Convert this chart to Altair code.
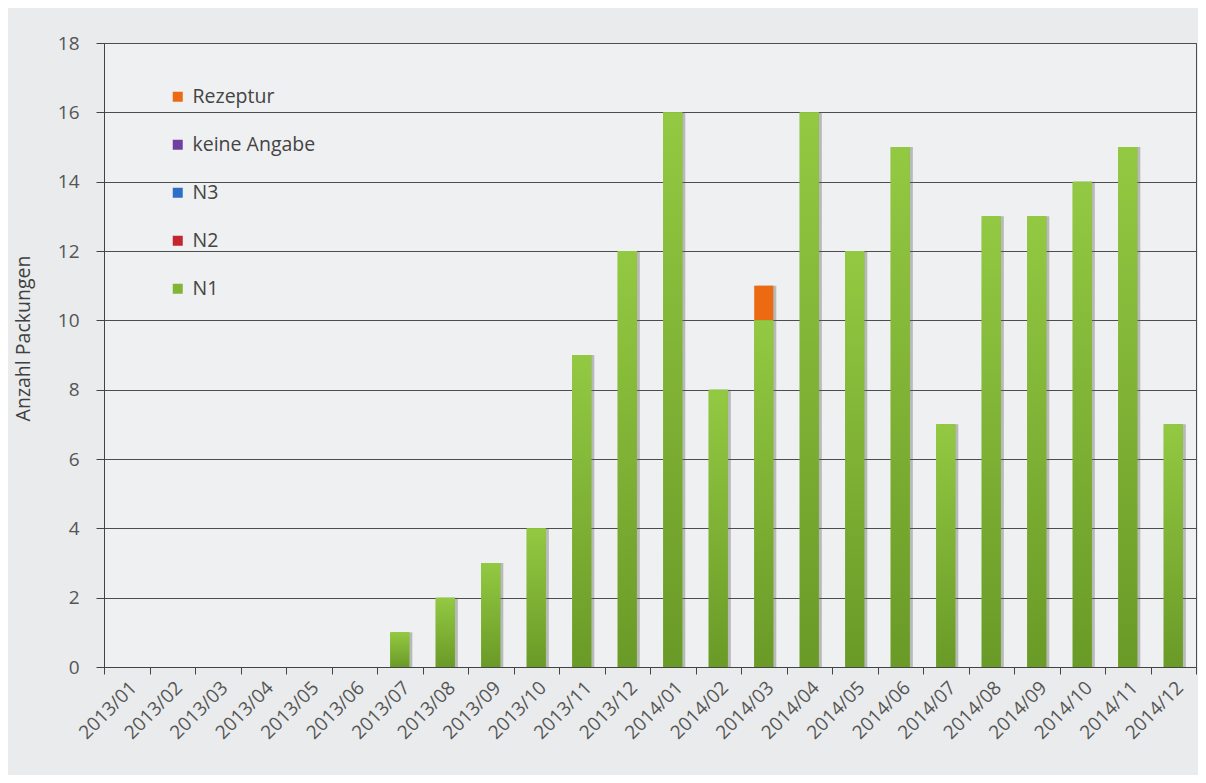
import altair as alt
import pandas as pd

months = ["2013/01", "2013/02", "2013/03", "2013/04", "2013/05", "2013/06",
          "2013/07", "2013/08", "2013/09", "2013/10", "2013/11", "2013/12",
          "2014/01", "2014/02", "2014/03", "2014/04", "2014/05", "2014/06",
          "2014/07", "2014/08", "2014/09", "2014/10", "2014/11", "2014/12"]
n1 = [0, 0, 0, 0, 0, 0, 1, 2, 3, 4, 9, 12, 16, 8, 10, 16, 12, 15, 7, 13, 13, 14, 15, 7]
n2 = [0] * 24
n3 = [0] * 24
keine_angabe = [0] * 24
rezeptur = [0, 0, 0, 0, 0, 0, 0, 0, 0, 0, 0, 0, 0, 0, 1, 0, 0, 0, 0, 0, 0, 0, 0, 0]

series_names = ["Rezeptur", "keine Angabe", "N3", "N2", "N1"]
series_colors = ["#ec6a12", "#7040a0", "#2e6ec4", "#c3262c", "#82b536"]
series_values = [rezeptur, keine_angabe, n3, n2, n1]

rows = []
for name, vals in zip(series_names, series_values):
    for m, v in zip(months, vals):
        rows.append({"month": m, "series": name, "value": v,
                     "ord": 4 - series_names.index(name)})
df = pd.DataFrame(rows)

FONT = "Open Sans"
BAR_W = alt.RelativeBandSize(0.42)
x_enc = alt.X("month:N", sort=months, title=None,
              scale=alt.Scale(paddingInner=0, paddingOuter=0),
              axis=alt.Axis(labelAngle=-45, labelFontSize=19, labelColor="#555555",
                            labelFont=FONT, tickBand="extent", tickSize=7,
                            tickColor="#444444", domainColor="#444444",
                            labelPadding=4, grid=False))

base = alt.Chart(df)

shadow = base.mark_bar(color="#5e5e5e", opacity=0.38, xOffset=3, width=BAR_W).encode(
    x=x_enc,
    y=alt.Y("sum(value):Q"),
)

main = base.mark_bar(width=BAR_W).encode(
    x=x_enc,
    y=alt.Y("value:Q", stack="zero", title="Anzahl Packungen",
            scale=alt.Scale(domain=[0, 18], nice=False),
            axis=alt.Axis(values=list(range(0, 19, 2)), tickSize=8,
                          tickColor="#444444", domainColor="#444444",
                          gridColor="#4d4d4d", gridWidth=1,
                          labelFontSize=19, labelColor="#555555", labelFont=FONT,
                          labelPadding=17, titleFontSize=19.5, titleColor="#404040",
                          titleFont=FONT, titleFontWeight="normal", titlePadding=24,
                          titleY=295)),
    color=alt.Color("series:N",
                    scale=alt.Scale(domain=series_names, range=series_colors),
                    legend=alt.Legend(title=None, orient="none", legendX=64, legendY=44,
                                      symbolType="square", symbolSize=100,
                                      symbolStrokeWidth=0,
                                      labelFontSize=19.5, labelColor="#444444",
                                      labelFont=FONT, rowPadding=27, labelOffset=5)),
    order=alt.Order("ord:Q", sort="ascending"),
)

green_grad = alt.Gradient(
    gradient="linear",
    stops=[alt.GradientStop(color="#93c942", offset=0),
           alt.GradientStop(color="#6a9a27", offset=1)],
    x1=0, x2=0, y1=0, y2=1)

overlay = base.transform_filter(alt.datum.series == "N1").mark_bar(
    color=green_grad, width=BAR_W).encode(
    x=x_enc,
    y=alt.Y("value:Q", stack=None),
)

chart = alt.layer(shadow, main, overlay).properties(
    width=1092, height=624,
    padding={"left": 96, "top": 35, "right": 2, "bottom": 108},
    autosize=alt.AutoSizeParams(type="none"),
    background="#e9ebec",
).configure_view(fill="#eff0f1", stroke="#4d4d4d", strokeWidth=1)

chart.save("out.html", embed_options={"renderer": "svg", "actions": False})
